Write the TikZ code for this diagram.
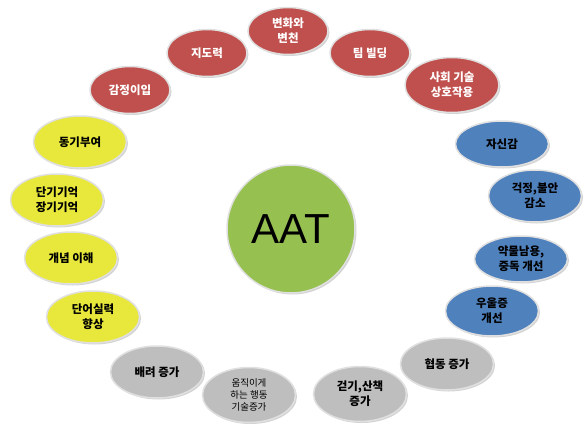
\documentclass[tikz,border=0pt]{standalone}
\usepackage{fontspec}
\setmainfont{Noto Sans CJK KR}
\newfontfamily\latin{Liberation Sans}
\usetikzlibrary{shapes.geometric,shadows}

\definecolor{bubred}{RGB}{192,80,77}
\definecolor{bubblue}{RGB}{79,129,189}
\definecolor{bubyellow}{RGB}{232,232,60}
\definecolor{bubgrey}{RGB}{190,190,190}
\definecolor{bubgreen}{RGB}{150,192,80}

\begin{document}
\begin{tikzpicture}[x=1pt,y=-1pt,
  bub/.style={ellipse,draw=black!12,line width=1.5pt,inner sep=0pt,
    minimum width=93pt,minimum height=52pt,align=center,
    font=\bfseries\fontsize{11.5}{15}\selectfont,
    drop shadow={shadow xshift=1.5pt,shadow yshift=-1.5pt,opacity=0.35}},
  redbub/.style={bub,fill=bubred,text=white,minimum width=80pt,minimum height=47pt},
  bluebub/.style={bub,fill=bubblue},
  yellowbub/.style={bub,fill=bubyellow},
  greybub/.style={bub,fill=bubgrey}]
  \useasboundingbox (0,0) rectangle (587,426);

  % centre
  \node[circle,fill=bubgreen,draw=black!12,line width=1.5pt,minimum size=128pt,
        drop shadow={shadow xshift=1.5pt,shadow yshift=-1.5pt,opacity=0.35},
        font=\latin\fontsize{42}{42}\selectfont] (aat) at (291,229) {AAT};

  % red
  \node[redbub] (empathy) at (130,90) {감정이입};
  \node[redbub] (lead) at (207,53) {지도력};
  \node[redbub] (change) at (288,31) {변화와\\변천};
  \node[redbub] (team) at (370,53) {팀 빌딩};
  \node[redbub,minimum width=94pt,minimum height=55pt] (social) at (452,85) {사회 기술\\상호작용};

  % blue
  \node[bluebub,minimum height=46pt] (conf) at (502,144) {자신감};
  \node[bluebub] (worry) at (535,196) {걱정,불안\\감소};
  \node[bluebub,minimum height=46pt] (drug) at (521,259) {약물남용,\\중독 개선};
  \node[bluebub,minimum height=50pt] (dep) at (492,311) {우울증\\개선};

  % grey
  \node[greybub] (coop) at (447,364) {협동 증가};
  \node[greybub,minimum height=55pt] (walk) at (360,394) {걷기,산책\\증가};
  \node[greybub,minimum height=55pt,font=\fontsize{9.5}{12}\selectfont] (move) at (249,395) {움직이게\\하는 행동\\기술증가};
  \node[greybub] (care) at (157,372) {배려 증가};

  % yellow
  \node[yellowbub] (vocab) at (93,317) {단어실력\\향상};
  \node[yellowbub] (concept) at (71,258) {개념 이해};
  \node[yellowbub] (memory) at (57,200) {단기기억\\장기기억};
  \node[yellowbub] (motive) at (80,142) {동기부여};
\end{tikzpicture}
\end{document}
